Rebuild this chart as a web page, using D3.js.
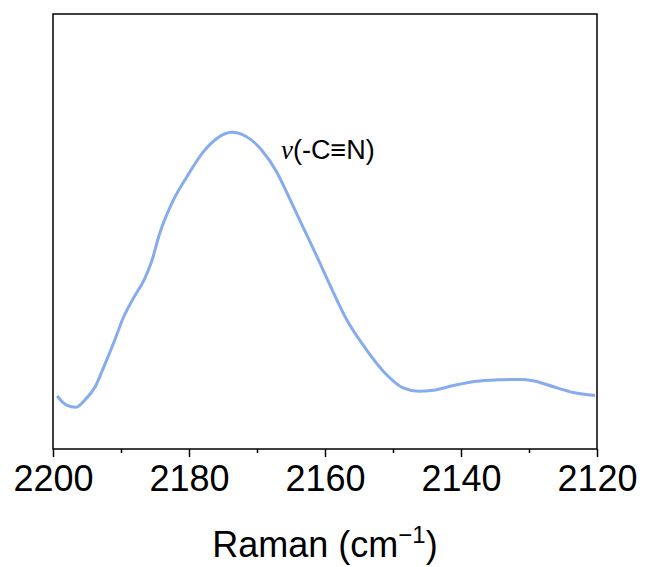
<!DOCTYPE html>
<html>
<head>
<meta charset="utf-8">
<script src="https://cdn.jsdelivr.net/npm/d3@7"></script>
<style>
  html, body { margin: 0; padding: 0; background: #fff; }
  svg { display: block; }
</style>
</head>
<body>
<svg id="chart" width="645" height="567"></svg>
<script>
// Raman shift (cm^-1) and intensity (a.u.) of the nitrile stretching band
const wavenumbers = [2199.4, 2198.0, 2196.6, 2195.3, 2193.8, 2192.6, 2191.1, 2189.6, 2188.2, 2186.6,
  2185.5, 2184.3, 2182.3, 2180.3, 2177.9, 2175.9, 2173.7, 2172.3, 2170.8, 2169.3,
  2167.1, 2165.1, 2163.2, 2161.2, 2159.3, 2156.8, 2153.9, 2150.9, 2148.6,
  2146.3, 2144.1, 2141.1, 2137.7, 2134.7, 2131.3, 2129.4, 2126.4, 2123.5, 2120.3];
const intensity = [12.2, 10.1, 9.6, 11.3, 14.3, 18.6, 24.3, 30.4, 34.6, 38.9,
  43.1, 49.6, 57.2, 62.6, 68.3, 71.4, 72.8, 72.4, 71.0, 68.7,
  63.7, 57.2, 50.9, 44.3, 37.8, 29.7, 22.8, 17.0, 14.1,
  13.3, 13.5, 14.6, 15.6, 15.9, 16.0, 15.7, 14.3, 13.0, 12.3];
const majorTicks = [2200, 2180, 2160, 2140, 2120];
const minorTicks = [2190, 2170, 2150, 2130];
const xTitle = "Raman (cm";
const peakLabel = "(-C≡N)";

const svg = d3.select("#chart");
const plotLeft = 53, plotRight = 597, plotTop = 14, plotBottom = 449;

const x = d3.scaleLinear().domain([2200, 2120]).range([plotLeft, plotRight]);
const y = d3.scaleLinear().domain([0, 100]).range([plotBottom, plotTop]);

const data = wavenumbers.map((w, i) => ({ w, v: intensity[i] }));

// spectrum trace
const line = d3.line()
  .x(d => x(d.w))
  .y(d => y(d.v))
  .curve(d3.curveMonotoneX);

svg.append("path")
  .datum(data)
  .attr("d", line)
  .attr("fill", "none")
  .attr("stroke", "#86acee")
  .attr("stroke-width", 3)
  .attr("stroke-linejoin", "round");

// frame
svg.append("rect")
  .attr("x", plotLeft).attr("y", plotTop)
  .attr("width", plotRight - plotLeft).attr("height", plotBottom - plotTop)
  .attr("fill", "none")
  .attr("stroke", "#000")
  .attr("stroke-width", 1.5);

// bottom axis: major ticks with labels
const xAxis = d3.axisBottom(x)
  .tickValues(majorTicks)
  .tickFormat(d3.format("d"))
  .tickSize(8)
  .tickPadding(8);

const gx = svg.append("g")
  .attr("transform", `translate(0,${plotBottom})`)
  .call(xAxis);
gx.select(".domain").remove();
gx.selectAll(".tick line").attr("stroke", "#000").attr("stroke-width", 1.5);
gx.selectAll(".tick text")
  .attr("fill", "#000")
  .style("font-family", "Arial, 'Liberation Sans', sans-serif")
  .style("font-size", "36px");

// minor ticks
const xMinor = d3.axisBottom(x).tickValues(minorTicks).tickSize(4).tickFormat("");
const gm = svg.append("g")
  .attr("transform", `translate(0,${plotBottom})`)
  .call(xMinor);
gm.select(".domain").remove();
gm.selectAll(".tick line").attr("stroke", "#000").attr("stroke-width", 1.5);

// axis title
const title = svg.append("text")
  .attr("x", (plotLeft + plotRight) / 2)
  .attr("y", 557)
  .attr("text-anchor", "middle")
  .style("font-family", "Arial, 'Liberation Sans', sans-serif")
  .style("font-size", "36px")
  .attr("fill", "#000");
title.append("tspan").text(xTitle);
title.append("tspan").attr("dy", -14).style("font-size", "24px").text("−1");
title.append("tspan").attr("dy", 14).text(")");

// peak annotation
const ann = svg.append("text")
  .attr("x", 281)
  .attr("y", 159)
  .style("font-size", "27px")
  .attr("fill", "#000");
ann.append("tspan")
  .style("font-family", "'Times New Roman', 'Liberation Serif', serif")
  .style("font-style", "italic")
  .text("ν");
ann.append("tspan")
  .style("font-family", "Arial, 'Liberation Sans', sans-serif")
  .text(peakLabel);
</script>
</body>
</html>
